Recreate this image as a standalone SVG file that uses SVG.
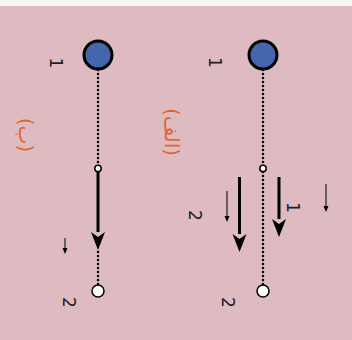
<svg xmlns="http://www.w3.org/2000/svg" width="352" height="340" viewBox="0 0 352 340">
<defs>
<style>
.dot{stroke:#000;stroke-width:2.5;stroke-linecap:round;stroke-dasharray:0 4;fill:none}
.big{stroke:#000;stroke-width:3;fill:none}
.thin{stroke:#000;stroke-width:1;fill:none}
.num{font-family:"DejaVu Sans",sans-serif;font-size:17px;fill:#222;text-anchor:middle;dominant-baseline:central}
.lab{font-family:"DejaVu Sans",sans-serif;font-size:20px;fill:#E0652F;text-anchor:middle;dominant-baseline:central}
.node{fill:#4466AA;stroke:#000;stroke-width:3}
.hole{fill:#fff;stroke:#000;stroke-width:1.5}
</style>
</defs>
<rect width="352" height="340" fill="#DDBBC0"/>
<rect width="352" height="6" fill="#F4F6F2"/>
<g id="connectors">
<line class="dot" x1="98" y1="70" x2="98" y2="165"/>
<line class="dot" x1="98" y1="252" x2="98" y2="286"/>
<line class="dot" x1="263" y1="70" x2="263" y2="165"/>
<line class="dot" x1="263" y1="172" x2="263" y2="286"/>
<path class="big" d="M98,172 V232"/>
<path d="M91,232 L98,250 L105,232 L98,237 Z" fill="#000"/>
<path class="big" d="M239.5,177 V234"/>
<path d="M232.5,234 L239.5,252 L246.5,234 L239.5,239 Z" fill="#000"/>
<path class="big" d="M279,177 V219"/>
<path d="M272,219 L279,237 L286,219 L279,224 Z" fill="#000"/>
<path class="thin" d="M65,238 V249"/>
<path d="M62.5,248 L65,254 L67.5,248 Z" fill="#000"/>
<path class="thin" d="M227,191 V216"/>
<path d="M224.5,216 L227,222 L229.5,216 Z" fill="#000"/>
<path class="thin" d="M326,184 V206"/>
<path d="M323.5,206 L326,212 L328.5,206 Z" fill="#000"/>
</g>
<g id="node-left-top"><circle class="node" cx="98" cy="55" r="14"/></g>
<g id="node-left-mid"><circle class="hole" cx="98" cy="168.5" r="3.2"/></g>
<g id="node-left-bottom"><circle class="hole" cx="98" cy="291" r="6"/></g>
<g id="node-right-top"><circle class="node" cx="263" cy="55" r="14"/></g>
<g id="node-right-mid"><circle class="hole" cx="263" cy="168.5" r="3.2"/></g>
<g id="node-right-bottom"><circle class="hole" cx="263" cy="291" r="6"/></g>
<g id="labels">
<text class="num" transform="translate(55.5,63) rotate(90)">1</text>
<text class="num" transform="translate(69,302.5) rotate(90)">2</text>
<text class="num" transform="translate(214.5,62.5) rotate(90)">1</text>
<text class="num" transform="translate(195,215.5) rotate(90)">2</text>
<text class="num" transform="translate(293,207.5) rotate(90)">1</text>
<text class="num" transform="translate(228,302.5) rotate(90)">2</text>
<text class="lab" transform="translate(26,135) rotate(90)">(ب)</text>
<text class="lab" transform="translate(172,132) rotate(90)">(الف)</text>
</g>
</svg>
